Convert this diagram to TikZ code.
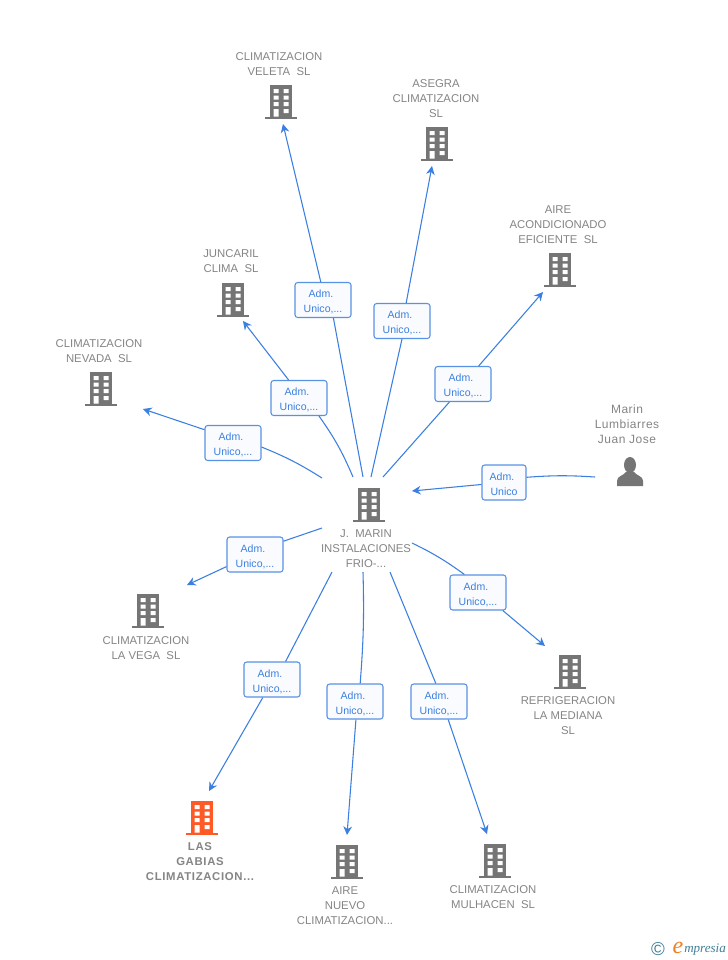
\documentclass[tikz,border=0pt]{standalone}
\usepackage{fontspec}
\setmainfont{Liberation Sans}
\newfontfamily\spacedfont[LetterSpace=4]{Liberation Sans}
\newfontfamily\boldfont[LetterSpace=6]{Liberation Sans Bold}
\newfontfamily\logofont{Liberation Serif Italic}
\usetikzlibrary{arrows.meta}
\definecolor{lnkblue}{HTML}{3B7FE0}
\definecolor{icogray}{HTML}{757575}
\definecolor{txtgray}{HTML}{858585}
\definecolor{icored}{HTML}{FF5A26}
\definecolor{logoteal}{HTML}{3F7F96}
\definecolor{logoorange}{HTML}{F08020}
\newcommand{\admline}{\rule{0pt}{8.6pt}Adm.\hspace*{3pt}}
\tikzset{
  bldg/.pic={
    \fill[pic actions] (-11,-16) rectangle (11,16);
    \fill[pic actions] (-16,15.5) rectangle (16,18);
    \fill[white] (-7.5,-12) rectangle (-2.5,-8) (2.5,-12) rectangle (7.5,-8);
    \fill[white] (-7.5,-5.5) rectangle (-2.5,-1.5) (2.5,-5.5) rectangle (7.5,-1.5);
    \fill[white] (-7.5,1) rectangle (-2.5,5) (2.5,1) rectangle (7.5,5);
    \fill[white] (-7.5,8) rectangle (-2.5,15.5) (2.5,8) rectangle (7.5,12);
  },
  person/.pic={
    \fill[pic actions] (0,-7) ellipse (6 and 8);
    \fill[pic actions] (-13,14) -- (-13,9) .. controls (-13,4) and (-7,4) .. (-4,0) -- (4,0)
      .. controls (7,4) and (13,4) .. (13,9) -- (13,14) -- cycle;
  },
  ico/.style={fill=icogray},
  lbl/.style={text=txtgray, align=center, inner sep=0pt, yshift=-0.75pt, font=\fontsize{8.5}{11.25}\selectfont},
  admbox/.style={draw=lnkblue!85!white, fill=white!97!lnkblue, rounded corners=2pt, line width=0.8pt,
    minimum width=42pt, minimum height=26.25pt, inner sep=0pt, align=center, text=lnkblue,
    font=\fontsize{7.9}{11.25}\selectfont},
  lnk/.style={draw=lnkblue, line width=0.8pt},
  arr/.style={lnk, -{Stealth[length=6.5pt,width=6.5pt]}},
}
\begin{document}
\begin{tikzpicture}[x=0.75pt,y=-0.75pt]
    \useasboundingbox[fill=white] (0,0) rectangle (728,960);
    % icons
    \pic[ico] at (281,101) {bldg};
    \pic[ico] at (437,143) {bldg};
    \pic[ico] at (560,269) {bldg};
    \pic[ico] at (233,299) {bldg};
    \pic[ico] at (101,388) {bldg};
    \pic[ico] at (369,504) {bldg};
    \pic[ico] at (148,610) {bldg};
    \pic[ico] at (570,671) {bldg};
    \pic[fill=icored] at (202,817) {bldg};
    \pic[ico] at (347,861) {bldg};
    \pic[ico] at (495,860) {bldg};
    \pic[ico] at (630,472) {person};
    % labels
    \node[lbl] (lblVeleta) at (279,63.5) {CLIMATIZACION\\VELETA\ \ SL};
    \node[lbl] (lblAsegra) at (436,98) {ASEGRA\\CLIMATIZACION\\SL};
    \node[lbl] (lblAire) at (558,224) {AIRE\\ACONDICIONADO\\EFICIENTE\ \ SL};
    \node[lbl] (lblJuncaril) at (231,260.5) {JUNCARIL\\CLIMA\ \ SL};
    \node[lbl] (lblNevada) at (99,350.5) {CLIMATIZACION\\NEVADA\ \ SL};
    \node[lbl, font=\fontsize{9}{11.25}\spacedfont] (lblMarin) at (627,423) {Marin\\Lumbiarres\\Juan Jose};
    \node[lbl] (lblHub) at (366,548) {J.\ \ MARIN\\INSTALACIONES\\FRIO-...};
    \node[lbl] (lblVega) at (146,647.5) {CLIMATIZACION\\LA VEGA\ \ SL};
    \node[lbl] (lblMediana) at (568,715) {REFRIGERACION\\LA MEDIANA\\SL};
    \node[lbl, font=\fontsize{8.5}{11.25}\boldfont] (lblGabias) at (200,861) {LAS\\GABIAS\\CLIMATIZACION...};
    \node[lbl] (lblNuevo) at (345,905) {AIRE\\NUEVO\\CLIMATIZACION...};
    \node[lbl] (lblMulhacen) at (493,896.5) {CLIMATIZACION\\MULHACEN\ \ SL};
    % role boxes
    \node[admbox] (boxVeleta) at (323,300) {\admline\\Unico,...};
    \node[admbox] (boxAsegra) at (402,321) {\admline\\Unico,...};
    \node[admbox] (boxAire) at (463,384) {\admline\\Unico,...};
    \node[admbox] (boxJuncaril) at (299,398) {\admline\\Unico,...};
    \node[admbox] (boxNevada) at (233,443) {\admline\\Unico,...};
    \node[admbox, minimum width=33pt] (boxMarin) at (504,482.5) {\admline\\Unico};
    \node[admbox] (boxVega) at (255,554.5) {\admline\\Unico,...};
    \node[admbox] (boxMediana) at (478,592.5) {\admline\\Unico,...};
    \node[admbox] (boxGabias) at (272,679.5) {\admline\\Unico,...};
    \node[admbox] (boxNuevo) at (355,701.5) {\admline\\Unico,...};
    \node[admbox] (boxMulhacen) at (439,701.5) {\admline\\Unico,...};
    % free ends round the centre
    \coordinate (hubVeleta) at (363,477);
    \coordinate (hubAsegra) at (371,477);
    \coordinate (hubAire) at (383,477);
    \coordinate (hubJuncaril) at (353,477);
    \coordinate (hubNevada) at (322,478);
    \coordinate (hubMarin) at (412,491);
    \coordinate (hubVega) at (322,528);
    \coordinate (hubMediana) at (412,543);
    \coordinate (hubGabias) at (332,572);
    \coordinate (hubNuevo) at (363,572);
    \coordinate (hubMulhacen) at (390,572);
    % free ends at the far side
    \coordinate (tipVeleta) at (283,124);
    \coordinate (tipAsegra) at (432,166);
    \coordinate (tipAire) at (543,292);
    \coordinate (tipJuncaril) at (243,321);
    \coordinate (tipNevada) at (143,409);
    \coordinate (srcMarin) at (595,477);
    \coordinate (tipVega) at (187,585);
    \coordinate (tipMediana) at (545,646);
    \coordinate (tipGabias) at (209,791);
    \coordinate (tipNuevo) at (347,835);
    \coordinate (tipMulhacen) at (487,834);
    % connectors
    \draw[lnk] (hubVeleta) -- (boxVeleta.-60);
    \draw[arr] (boxVeleta.97) -- (tipVeleta);
    \draw[lnk] (hubAsegra) -- (boxAsegra.-90);
    \draw[arr] (boxAsegra.77) -- (tipAsegra);
    \draw[lnk] (hubAire) -- (boxAire.-127);
    \draw[arr] (boxAire.49) -- (tipAire);
    \draw[lnk] (hubJuncaril) to[bend right=6] (boxJuncaril.-42);
    \draw[arr] (boxJuncaril.120) -- (tipJuncaril);
    \draw[lnk] (hubNevada) to[bend right=5] (boxNevada.-8);
    \draw[arr] (boxNevada.155) -- (tipNevada);
    \draw[lnk] (srcMarin) to[bend right=4] (boxMarin.13);
    \draw[arr] (boxMarin.-175) -- (hubMarin);
    \draw[lnk] (hubVega) -- (boxVega.25);
    \draw[arr] (boxVega.203) -- (tipVega);
    \draw[lnk] (hubMediana) to[bend left=5] (boxMediana.127);
    \draw[arr] (boxMediana.-36) -- (tipMediana);
    \draw[lnk] (hubGabias) -- (boxGabias.53);
    \draw[arr] (boxGabias.-117) -- (tipGabias);
    \draw[lnk] (hubNuevo) to[bend left=3] (boxNuevo.74);
    \draw[arr] (boxNuevo.-87) -- (tipNuevo);
    \draw[lnk] (hubMulhacen) -- (boxMulhacen.100);
    \draw[arr] (boxMulhacen.-63) -- (tipMulhacen);
    % logo
    \node[inner sep=0pt, text=logoteal, font=\fontsize{14}{14}\selectfont] (logoC) at (658,949) {©};
    \node[inner sep=0pt, text=logoorange, font=\fontsize{18}{18}\logofont] (logoE) at (678,948) {e};
    \node[inner sep=0pt, anchor=west, text=logoteal, font=\fontsize{9.8}{12}\logofont] (logoT) at (684,950) {mpresia};
\end{tikzpicture}
\end{document}
